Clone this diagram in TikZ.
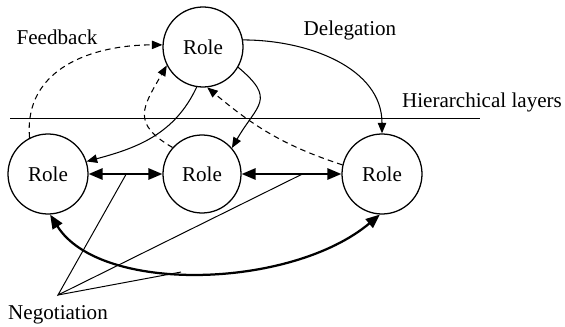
\documentclass[tikz,border=0pt]{standalone}
\usepackage{fontspec}
\setmainfont{Liberation Serif}
\usetikzlibrary{arrows.meta,calc}

\begin{document}
\begin{tikzpicture}[
    role/.style={draw, circle, line width=0.9pt, minimum size=2cm, inner sep=0pt,
        font=\fontsize{15}{18}\selectfont},
    lbl/.style={font=\fontsize{15}{18}\selectfont},
    link/.style={line width=0.75pt, -{Triangle[length=7.5pt, width=6pt]}},
    fback/.style={link, dash pattern=on 4pt off 3pt},
    nego/.style={line width=1.6pt,
        {Triangle[length=10pt, width=8pt]}-{Triangle[length=10pt, width=8pt]}}
]
    \useasboundingbox (0, 0) rectangle (14.125, 8.175);

    % the four roles
    \node[role] (top) at (5.075, 7.0) {Role};
    \node[role] (left) at (1.2, 3.825) {Role};
    \node[role, minimum size=1.95cm] (mid) at (5.05, 3.825) {Role};
    \node[role] (right) at (9.55, 3.825) {Role};

    % layer boundary
    \coordinate (layA) at (0.25, 5.225);
    \coordinate (layB) at (12.0, 5.225);
    \draw[line width=0.7pt] (layA) -- (layB);

    % labels
    \node[lbl] (feedback) at (1.425, 7.25) {Feedback};
    \node[lbl] (delegation) at (8.75, 7.425) {Delegation};
    \node[lbl] (layers) at (12.05, 5.625) {Hierarchical layers};
    \node[lbl] (negotiation) at (1.45, 0.3) {Negotiation};

    % delegation downwards
    \draw[link] (top.10) to[out=0, in=90] (right.90);
    \draw[link] (top.261) to[out=245, in=15] (left.18);
    \draw[link] (top.-30) to[out=-40, in=60, looseness=1.6] (mid.41);

    % feedback upwards
    \draw[fback] (left.117) to[out=95, in=180, looseness=1.1] (top.177);
    \draw[fback] (mid.138) to[out=150, in=240, looseness=1.5] (top.207);
    \draw[fback] (right.167) to[out=162, in=-40] (top.276);

    % negotiation between peers
    \draw[nego] (left.east) -- coordinate[pos=0.51] (n1) (mid.west);
    \draw[nego] (mid.east) -- coordinate[pos=0.61] (n2) (right.west);
    \draw[nego] (left.-87) .. controls +(-58:2.35) and +(-140:2.9) ..
        coordinate[pos=0.45] (n3) (right.-93);

    \coordinate (apex) at (1.45, 0.8);
    \draw[line width=0.7pt] (n1) -- (apex) -- (n2);
    \draw[line width=0.7pt] (apex) -- (n3);
\end{tikzpicture}
\end{document}
